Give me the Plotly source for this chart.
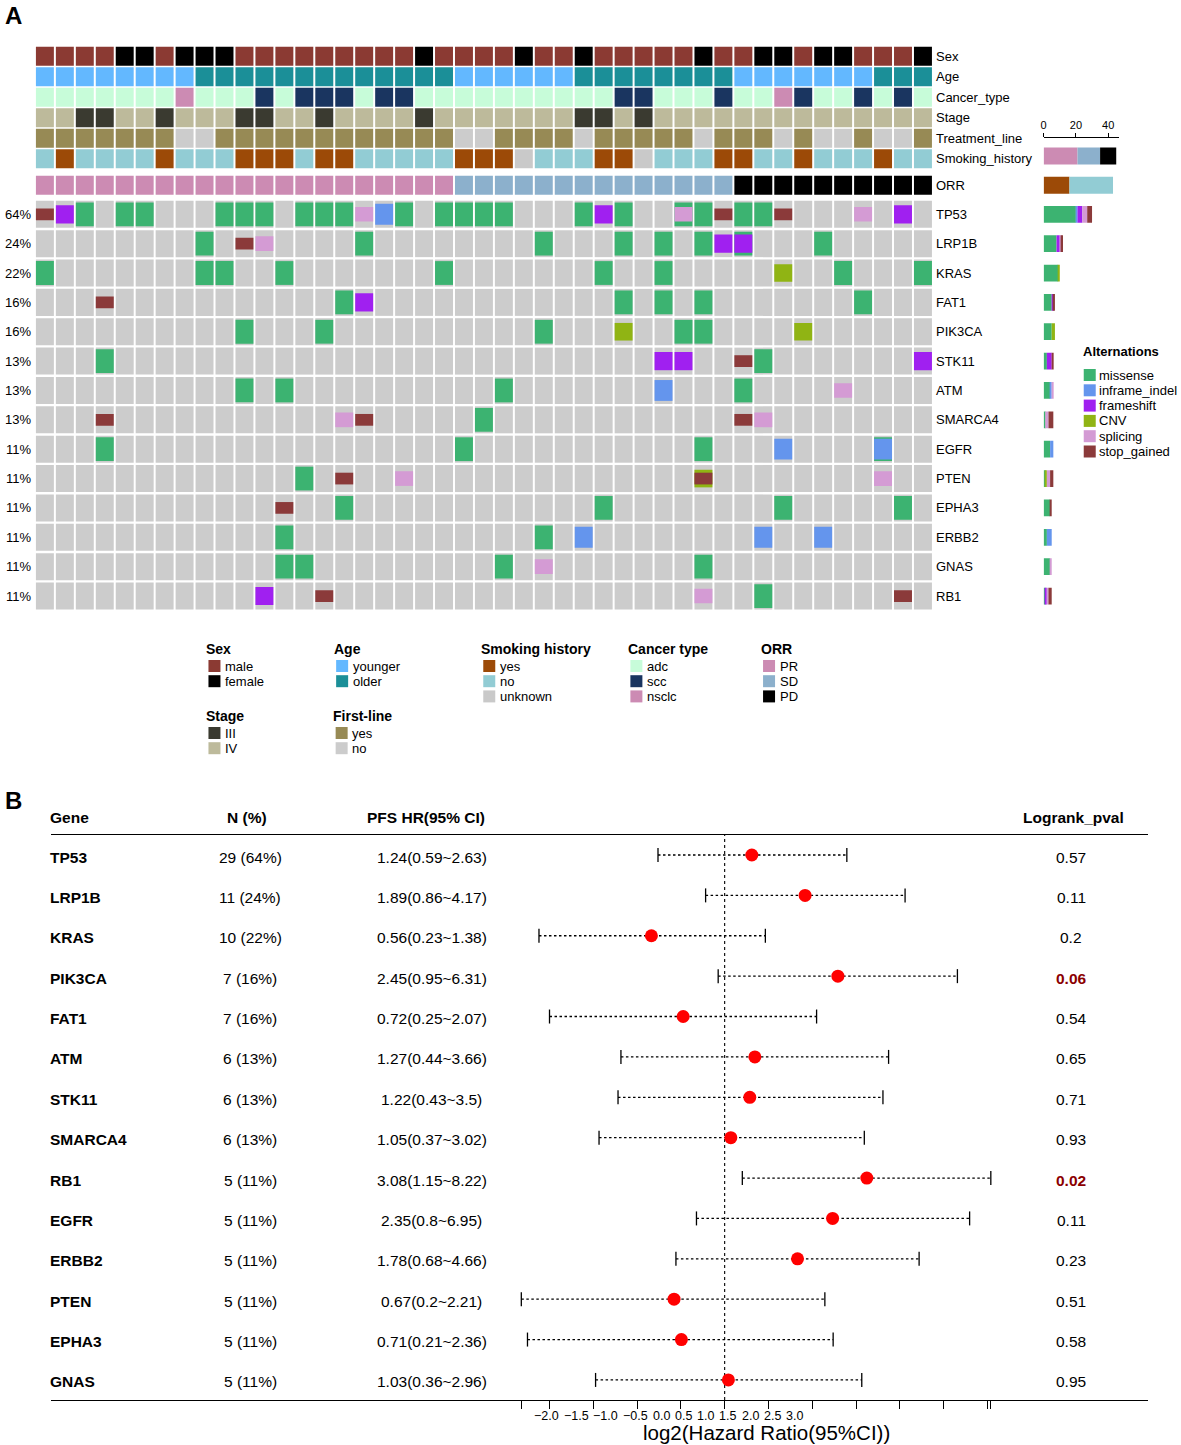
import plotly.graph_objects as go
import numpy as np

W, H = 1181, 1445
FONT = "Liberation Sans, Arial, Helvetica, sans-serif"
TXT_OFF = 2  # compensation for annotation box padding


def fx(px):
    return px / W


def fy(py):
    return 1 - py / H


# ---------------- sample annotations (45 samples, left to right) ----------------
sex_codes = "MMMMF FMFFF MMMMM MMMMF MMMMF MMFMM MMMFM MFFMF FMMMF"
age_codes = "YYYYY YYYOO OOOOO OOOOO OYYYY YYOOO OOOOO YYYYY YYOOO"
cancer_codes = "AAAAA AANAA ASASS SASSA AAAAA AAAAS SAAAS AANSA ASASA"
stage_codes = "44334 43444 33443 44443 44444 44334 34444 44444 44444"
treat_codes = "YYYYY YYNNY YYYYY YYYYY YNNYY YYNYY YYYNY YYNYN NYNNY"
smoke_codes = "NYNNN NYNNN YYYNY YNNNN NYYYU NNNYY UNNNY YNNYN NNYNN"
orr_codes = "PPPPP PPPPP PPPPP PPPPP PSSSS SSSSS SSSSS DDDDD DDDDD"


def decode(codes, mapping):
    return [mapping[c] for c in codes.replace(" ", "")]


sex = decode(sex_codes, {"M": "male", "F": "female"})
age = decode(age_codes, {"Y": "younger", "O": "older"})
cancer_type = decode(cancer_codes, {"A": "adc", "S": "scc", "N": "nsclc"})
stage = decode(stage_codes, {"3": "III", "4": "IV"})
treatment_line = decode(treat_codes, {"Y": "yes", "N": "no"})
smoking = decode(smoke_codes, {"Y": "yes", "N": "no", "U": "unknown"})
orr = decode(orr_codes, {"P": "PR", "S": "SD", "D": "PD"})
n_samples = len(sex)

annotation_rows = [
    ("Sex", sex, ["male", "female"], ["#8B3A33", "#000000"]),
    ("Age", age, ["younger", "older"], ["#63B8FF", "#1B8F98"]),
    ("Cancer_type", cancer_type, ["adc", "scc", "nsclc"], ["#C7FCD9", "#1A3560", "#CC8BB3"]),
    ("Stage", stage, ["III", "IV"], ["#3A3A30", "#BDBA9B"]),
    ("Treatment_line", treatment_line, ["yes", "no"], ["#978A55", "#CCCCCC"]),
    ("Smoking_history", smoking, ["yes", "no", "unknown"], ["#9C4A07", "#92CCD4", "#C9C9C9"]),
    ("ORR", orr, ["PR", "SD", "PD"], ["#CC8BB3", "#8CB0CC", "#000000"]),
]

# ---------------- mutations (sample column indices per gene) ----------------
genes = ["TP53", "LRP1B", "KRAS", "FAT1", "PIK3CA", "STK11", "ATM", "SMARCA4",
         "EGFR", "PTEN", "EPHA3", "ERBB2", "GNAS", "RB1"]

missense = {
    "TP53": [2, 4, 5, 9, 10, 11, 13, 14, 15, 18, 20, 21, 22, 23, 27, 29, 32, 33, 35, 36],
    "LRP1B": [8, 16, 25, 29, 31, 33, 35, 39],
    "KRAS": [0, 8, 9, 12, 20, 28, 31, 40, 44],
    "FAT1": [15, 29, 31, 33, 41],
    "PIK3CA": [10, 14, 25, 32, 33],
    "STK11": [3, 36],
    "ATM": [10, 12, 23, 35],
    "SMARCA4": [22],
    "EGFR": [3, 21, 33, 42],
    "PTEN": [13],
    "EPHA3": [15, 28, 37, 43],
    "ERBB2": [12, 25],
    "GNAS": [12, 13, 23, 33],
    "RB1": [36],
}
inframe_indel = {"TP53": [17], "ATM": [31], "EGFR": [37, 42], "ERBB2": [27, 36, 39]}
frameshift = {"TP53": [1, 28, 43], "LRP1B": [34, 35], "FAT1": [16], "STK11": [31, 32, 44], "RB1": [11]}
cnv = {"KRAS": [37], "PIK3CA": [29, 38], "PTEN": [33]}
splicing = {"TP53": [16, 32, 41], "LRP1B": [11], "ATM": [40], "SMARCA4": [15, 36],
            "PTEN": [18, 42], "GNAS": [25], "RB1": [33]}
stop_gained = {"TP53": [0, 34, 37], "LRP1B": [10], "FAT1": [3], "STK11": [35],
               "SMARCA4": [3, 16, 35], "PTEN": [15, 33], "EPHA3": [12], "RB1": [14, 43]}

alt_types = ["missense", "inframe_indel", "frameshift", "CNV", "splicing", "stop_gained"]
alt_data = {"missense": missense, "inframe_indel": inframe_indel, "frameshift": frameshift,
            "CNV": cnv, "splicing": splicing, "stop_gained": stop_gained}
alt_colors = {"missense": "#3CB371", "inframe_indel": "#6495ED", "frameshift": "#A020F0",
              "CNV": "#90B414", "splicing": "#D49BD4", "stop_gained": "#8B3A3A"}
alt_heights = {"missense": 0.81, "inframe_indel": 0.71, "frameshift": 0.62,
               "CNV": 0.60, "splicing": 0.50, "stop_gained": 0.40}

# ---------------- forest plot data ----------------
forest_genes = ["TP53", "LRP1B", "KRAS", "PIK3CA", "FAT1", "ATM", "STK11", "SMARCA4",
                "RB1", "EGFR", "ERBB2", "PTEN", "EPHA3", "GNAS"]
forest_n = [29, 11, 10, 7, 7, 6, 6, 6, 5, 5, 5, 5, 5, 5]
hr = [1.24, 1.89, 0.56, 2.45, 0.72, 1.27, 1.22, 1.05, 3.08, 2.35, 1.78, 0.67, 0.71, 1.03]
hr_lo = [0.59, 0.86, 0.23, 0.95, 0.25, 0.44, 0.43, 0.37, 1.15, 0.8, 0.68, 0.2, 0.21, 0.36]
hr_hi = [2.63, 4.17, 1.38, 6.31, 2.07, 3.66, 3.5, 3.02, 8.22, 6.95, 4.66, 2.21, 2.36, 2.96]
pval = [0.57, 0.11, 0.2, 0.06, 0.54, 0.65, 0.71, 0.93, 0.02, 0.11, 0.23, 0.51, 0.58, 0.95]
forest_tick_labels = ["\u22122.0", "\u22121.5", "\u22121.0", "\u22120.5", "0.0", "0.5",
                      "1.0", "1.5", "2.0", "2.5", "3.0"]

# ---------------- geometry ----------------
ANN_POS = [0, 1, 2, 3, 4, 5, 6.30]
CELL_W = 0.9
ANN_H = 0.93
BG_H = 0.92

fig = go.Figure()
annotations = []


def note(text, x, y, xref="paper", yref="paper", xanchor="left", size=13, color="black", yshift=0):
    annotations.append(dict(text=text, x=x, y=y, xref=xref, yref=yref, xanchor=xanchor,
                            yanchor="middle", showarrow=False, borderpad=0, borderwidth=0,
                            yshift=yshift, font=dict(size=size, color=color)))


# annotation cells
for (name, vals, cats, cols), pos in zip(annotation_rows, ANN_POS):
    for cat, col in zip(cats, cols):
        xs = [i for i, v in enumerate(vals) if v == cat]
        if xs:
            fig.add_trace(go.Bar(x=xs, y=[ANN_H] * len(xs), base=[pos - ANN_H / 2] * len(xs),
                                 width=CELL_W, marker=dict(color=col, line=dict(width=0)),
                                 xaxis="x", yaxis="y", showlegend=False, hoverinfo="skip"))
    note(name, fx(937 - TXT_OFF), pos, yref="y")

# gene background cells
bg_x = [i for g in range(len(genes)) for i in range(n_samples)]
bg_base = [g - BG_H / 2 for g in range(len(genes)) for i in range(n_samples)]
fig.add_trace(go.Bar(x=bg_x, y=[BG_H] * len(bg_x), base=bg_base, width=CELL_W,
                     marker=dict(color="#CCCCCC", line=dict(width=0)),
                     xaxis="x", yaxis="y2", showlegend=False, hoverinfo="skip"))

# alterations
for t in alt_types:
    xs, bases = [], []
    h = alt_heights[t]
    for gi, g in enumerate(genes):
        for c in alt_data[t].get(g, []):
            xs.append(c)
            bases.append(gi - h / 2)
    fig.add_trace(go.Bar(x=xs, y=[h] * len(xs), base=bases, width=CELL_W,
                         marker=dict(color=alt_colors[t], line=dict(width=0)),
                         xaxis="x", yaxis="y2", showlegend=False, hoverinfo="skip"))

# gene labels and percentages
for gi, g in enumerate(genes):
    mutated = set()
    for t in alt_types:
        mutated.update(alt_data[t].get(g, []))
    pct = round(100 * len(mutated) / n_samples)
    note(g, fx(937 - TXT_OFF), gi, yref="y2")
    note(f"{pct}%", fx(28), gi, yref="y2", xanchor="right")

# right-side bar plots: alterations per gene
for ti, t in enumerate(alt_types):
    lengths, starts, ys = [], [], []
    for gi, g in enumerate(genes):
        cnt = len(alt_data[t].get(g, []))
        start = sum(len(alt_data[u].get(g, [])) for u in alt_types[:ti])
        if cnt:
            lengths.append(cnt)
            starts.append(start)
            ys.append(gi)
    fig.add_trace(go.Bar(x=lengths, base=starts, y=ys, orientation="h", width=0.57,
                         marker=dict(color=alt_colors[t], line=dict(width=0)),
                         xaxis="x2", yaxis="y2", showlegend=False, hoverinfo="skip"))


# right-side bar plots: ORR composition (at smoking row) and smoking composition (at ORR row)
def stacked_row(values, cats, cols, pos):
    start = 0
    for cat, col in zip(cats, cols):
        cnt = sum(1 for v in values if v == cat)
        fig.add_trace(go.Bar(x=[cnt], base=[start], y=[pos], orientation="h", width=0.83,
                             marker=dict(color=col, line=dict(width=0)),
                             xaxis="x2", yaxis="y", showlegend=False, hoverinfo="skip"))
        start += cnt


stacked_row(orr, ["PR", "SD", "PD"], annotation_rows[6][3], ANN_POS[5] - 0.13)
stacked_row(smoking, ["yes", "no"], annotation_rows[5][3][:2], ANN_POS[6])

# ---------------- legends (swatches drawn in a pixel-space overlay axis) ----------------
sw_x, sw_y, sw_c = [], [], []
legend_groups = [
    ("Sex", 0, 205.5, 649), ("Age", 1, 333.5, 649), ("Smoking history", 5, 481, 649),
    ("Cancer type", 2, 628.5, 649), ("ORR", 6, 761.5, 649),
    ("Stage", 3, 205.5, 716), ("First-line", 4, 333, 716),
]
for title, ri, lx, ly in legend_groups:
    note(f"<b>{title}</b>", lx - TXT_OFF, ly, xref="x5", yref="y5", size=14)
    cats, cols = annotation_rows[ri][2], annotation_rows[ri][3]
    for k, (cat, col) in enumerate(zip(cats, cols)):
        yy = ly + 17 + 15.2 * k
        sw_x.append(lx + 6.5)
        sw_y.append(yy)
        sw_c.append(col)
        note(cat, lx + 19 - TXT_OFF, yy, xref="x5", yref="y5")

note("<b>Alternations</b>", 1085 - TXT_OFF, 351, xref="x5", yref="y5")
for k, t in enumerate(alt_types):
    yy = 375 + 15.3 * k
    sw_x.append(1089.5)
    sw_y.append(yy)
    sw_c.append(alt_colors[t])
    note(t, 1101 - TXT_OFF, yy, xref="x5", yref="y5")

fig.add_trace(go.Scatter(x=sw_x, y=sw_y, mode="markers",
                         marker=dict(symbol="square", size=12, color=sw_c, line=dict(width=0)),
                         xaxis="x5", yaxis="y5", showlegend=False, hoverinfo="skip"))

# ---------------- forest plot ----------------
lg_hr = np.log2(hr)
lg_lo = np.log2(hr_lo)
lg_hi = np.log2(hr_hi)
rows = list(range(len(forest_genes)))

ci_x, ci_y = [], []
for r in rows:
    ci_x += [lg_lo[r], lg_hi[r], None]
    ci_y += [r, r, None]
fig.add_trace(go.Scatter(x=ci_x, y=ci_y, mode="lines",
                         line=dict(color="black", width=1.3, dash="2.5px,2.5px"),
                         xaxis="x3", yaxis="y3", showlegend=False, hoverinfo="skip"))
fig.add_trace(go.Scatter(x=list(lg_lo) + list(lg_hi), y=rows + rows, mode="markers",
                         marker=dict(symbol="line-ns", size=10, line=dict(width=1.3, color="black")),
                         xaxis="x3", yaxis="y3", showlegend=False, hoverinfo="skip"))
fig.add_trace(go.Scatter(x=lg_hr, y=rows, mode="markers",
                         marker=dict(symbol="circle", size=13, color="#FF0000", line=dict(width=0)),
                         xaxis="x3", yaxis="y3", showlegend=False, hoverinfo="skip"))

# header
hdr_y = fy(817)
note("<b>Gene</b>", fx(49 - TXT_OFF), hdr_y, size=15.5)
note("<b>N (%)</b>", fx(245), hdr_y, xanchor="center", size=15.5)
note("<b>PFS HR(95% CI)</b>", fx(424), hdr_y, xanchor="center", size=15.5)
note("<b>Logrank_pval</b>", fx(1073), hdr_y, xanchor="center", size=15.5)

for r, g in enumerate(forest_genes):
    pct = round(100 * forest_n[r] / n_samples)
    note(f"<b>{g}</b>", fx(49 - TXT_OFF), r, yref="y3", yshift=-2, size=15.5)
    note(f"{forest_n[r]} ({pct}%)", fx(248), r, yref="y3", yshift=-2, xanchor="center", size=15.5)
    note(f"{hr[r]:g}({hr_lo[r]:g}~{hr_hi[r]:g})", fx(430), r, yref="y3", yshift=-2,
         xanchor="center", size=15.5)
    sig = pval[r] < 0.1
    note(f"<b>{pval[r]:g}</b>" if sig else f"{pval[r]:g}", fx(1071), r, yref="y3", yshift=-2,
         xanchor="center", size=15.5, color="#8B0000" if sig else "black")

# forest tick labels (packed left to right as in the original rendering)
TICK_FS = 12.5
char_em = {"\u2212": 0.584, ".": 0.278}
cursor = 533
for lab in forest_tick_labels:
    w = sum(char_em.get(ch, 0.556) for ch in lab) * TICK_FS
    note(lab, fx(cursor + w / 2), fy(1416), xanchor="center", size=TICK_FS)
    cursor += w + 4.9

note("log2(Hazard Ratio(95%CI))", fx(765), fy(1432), xanchor="center", size=20.5)

# panel letters
note("<b>A</b>", fx(2), fy(15), size=24)
note("<b>B</b>", fx(2), fy(800), size=24)

# forest axis scale: HR = 1 at pixel 723.5, 87.8 px per log2 unit
PX_PER = 87.8
X0 = 723.5
fx3_range = [(48 - X0) / PX_PER, (1148 - X0) / PX_PER]
tick_vals = ([float(lg_lo.min())]
             + [float(s.replace("\u2212", "-")) for s in forest_tick_labels]
             + [float(lg_hi.max())])
row_px = 40.38
y3_range = [(1400 - 855) / row_px, (835 - 855) / row_px]

shapes = [dict(type="line", xref="x3", yref="y3 domain", x0=0, x1=0, y0=0, y1=1,
               line=dict(color="black", width=1.1, dash="3px,3px"), layer="below")]

fig.update_layout(
    width=W, height=H, autosize=False,
    margin=dict(l=0, r=0, t=0, b=0, pad=0),
    paper_bgcolor="white", plot_bgcolor="rgba(0,0,0,0)",
    barmode="overlay", showlegend=False, hovermode=False,
    font=dict(family=FONT, color="black", size=13),
    annotations=annotations, shapes=shapes,
    xaxis=dict(domain=[fx(32), fx(932.3)], range=[-0.5, n_samples - 0.5], visible=False,
               anchor="y2", fixedrange=True),
    yaxis=dict(domain=[fy(195.5), fy(46.1)], range=[6.80, -0.5], visible=False, anchor="x",
               fixedrange=True),
    yaxis2=dict(domain=[fy(610.7), fy(199.6)], range=[len(genes) - 0.5, -0.5], visible=False,
                anchor="x", fixedrange=True),
    xaxis2=dict(domain=[fx(1043.3), fx(1119.3)], range=[0, 47], anchor="free", position=fy(137),
                side="top", showline=True, linecolor="black", linewidth=1, ticks="outside",
                ticklen=4, tickcolor="black", tickvals=[0, 20, 40], tickfont=dict(size=11),
                showgrid=False, zeroline=False, fixedrange=True),
    xaxis3=dict(domain=[fx(48), fx(1148)], range=fx3_range, anchor="y3", showline=True,
                mirror=True, linecolor="black", linewidth=1.4, ticks="outside", ticklen=8,
                tickcolor="black", tickwidth=1.2, tickvals=tick_vals, showticklabels=False,
                showgrid=False, zeroline=False, fixedrange=True),
    yaxis3=dict(domain=[fy(1400), fy(835)], range=y3_range, visible=False, anchor="x3",
                fixedrange=True),
    xaxis5=dict(domain=[0, 1], range=[0, W], visible=False, anchor="y5", fixedrange=True),
    yaxis5=dict(domain=[0, 1], range=[H, 0], visible=False, anchor="x5", fixedrange=True),
)

fig.write_html("out.html", include_plotlyjs=True, config={"displayModeBar": False},
               post_script="document.body.style.margin='0px';")
